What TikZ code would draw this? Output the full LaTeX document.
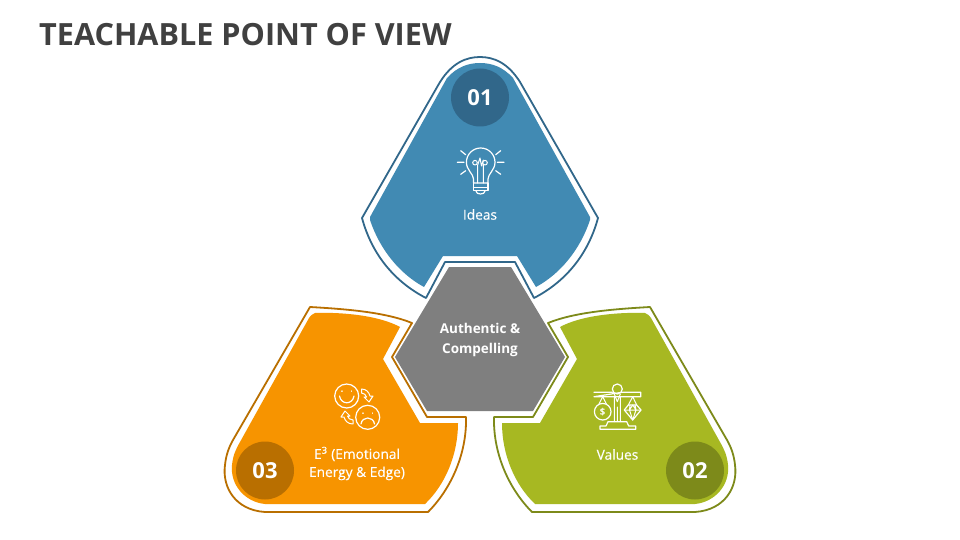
\documentclass[tikz,border=0pt]{standalone}
\usepackage{fontspec}
\setmainfont{Open Sans}
\newfontfamily\semifont[FakeBold=0.35]{Open Sans}
\definecolor{bluefill}{HTML}{418AB3}
\definecolor{bluedark}{HTML}{31678A}
\definecolor{orangefill}{HTML}{F79400}
\definecolor{orangedark}{HTML}{B96F00}
\definecolor{greenfill}{HTML}{A7B822}
\definecolor{greendark}{HTML}{7D8A1A}
\definecolor{hexgray}{HTML}{7F7F7F}
\definecolor{titlegray}{HTML}{404040}
\tikzset{
  outerline/.style={draw=#1,line width=1.8pt,fill=white,line join=round},
  numdisc/.style={circle,fill=#1,minimum size=58pt,inner sep=0pt,text=white,font=\bfseries\fontsize{22}{26}\selectfont},
  lbl/.style={text=white,align=center,font=\semifont\fontsize{13.7}{18}\selectfont,inner sep=0pt},
  boldlbl/.style={text=white,align=center,font=\bfseries\fontsize{13.5}{20}\selectfont,inner sep=0pt},
  icon/.style={draw=white,line width=1.2pt,line cap=round,line join=round,fill=none},
  thinicon/.style={draw=white,line width=1pt,line cap=round,line join=round,fill=none}
}
\begin{document}
\begin{tikzpicture}[x=1pt,y=-1pt]
\useasboundingbox (0,0) rectangle (960,540);
\node[anchor=west,inner sep=0pt,text=titlegray,font=\bfseries\fontsize{30.6}{36}\selectfont] (title) at (39,35) {TEACHABLE POINT OF VIEW};

% blue
\path[outerline=bluedark] (440,82) .. controls (452,63) and (466,57) .. (480,57) .. controls (494,57) and (508,63) .. (520,82)
  -- (598,218) .. controls (588,255) and (565,282) .. (534,298) -- (515,262) -- (445,262) -- (426,298)
  .. controls (395,282) and (372,255) .. (362,218) -- cycle;
\path[fill=bluefill] (447,78) .. controls (457,67) and (468,63) .. (480,63) .. controls (492,63) and (503,67) .. (513,78)
  -- (590,217) -- (590,220) .. controls (580,250) and (560,274) .. (536,287) -- (517,256) -- (443,256) -- (424,287)
  .. controls (400,274) and (380,250) .. (370,220) -- (370,217) -- cycle;

% orange
\path[outerline=orangedark] (310,307) .. controls (345,309) and (385,312) .. (412,323) -- (392,357) -- (427,417) -- (466,417)
  .. controls (467,455) and (450,490) .. (428,512) -- (265,512) .. controls (235,510) and (222,487) .. (225,465)
  .. controls (226,455) and (229,447) .. (233,440) -- cycle;
\path[fill=orangefill] (315,313) .. controls (345,312) and (380,316) .. (400,327) -- (383,359) -- (420,423) -- (458,423)
  .. controls (458,455) and (445,485) .. (425,504) -- (265,504) .. controls (245,502) and (230,485) .. (232,465)
  .. controls (233,455) and (236,449) .. (240,442) -- (309,318) .. controls (311,315) and (313,314) .. (315,313) -- cycle;

% green (mirror of orange)
\begin{scope}[xshift=960pt,xscale=-1]
\path[outerline=greendark] (310,307) .. controls (345,309) and (385,312) .. (412,323) -- (392,357) -- (427,417) -- (466,417)
  .. controls (467,455) and (450,490) .. (428,512) -- (265,512) .. controls (235,510) and (222,487) .. (225,465)
  .. controls (226,455) and (229,447) .. (233,440) -- cycle;
\path[fill=greenfill] (315,313) .. controls (345,312) and (380,316) .. (400,327) -- (383,359) -- (420,423) -- (458,423)
  .. controls (458,455) and (445,485) .. (425,504) -- (265,504) .. controls (245,502) and (230,485) .. (232,465)
  .. controls (233,455) and (236,449) .. (240,442) -- (309,318) .. controls (311,315) and (313,314) .. (315,313) -- cycle;
\end{scope}

% centre
\path[fill=hexgray] (449,267) -- (511,267) -- (565,357) -- (533,411) -- (427,411) -- (395,357) -- cycle;
\node[boldlbl] (centre) at (480,340) {Authentic \&\\Compelling};

% numbered discs
\node[numdisc=bluedark] (n1) at (480,97.5) {01};
\node[numdisc=greendark] (n2) at (695,470.5) {02};
\node[numdisc=orangedark] (n3) at (265,470.5) {03};

% labels
\node[lbl] (ideas) at (480,214.5) {Ideas};
\node[lbl] (values) at (617.5,454.5) {Values};
\node[lbl] (energy) at (357,463.5) {E\textsuperscript{3} (Emotional\\Energy \& Edge)};

% bulb icon
\draw[icon] (473.5,183) -- (473.5,179) .. controls (473.5,174) and (466.4,170) .. (466.4,162.3) arc[start angle=180,end angle=0,radius=14.3pt]
  .. controls (495,170) and (488,174) .. (488,179) -- (488,183) -- cycle;
\draw[thinicon] (475,162.7) circle (2.3pt) (485,162.7) circle (2.3pt);
\draw[thinicon] (477.7,183) -- (477.7,165) -- (480,158) -- (481.5,166) -- (483.3,160) (483.3,183) -- (483.3,165);
\draw[icon] (473.5,187.3) -- (488,187.3) (473.5,183) -- (473.5,190.7) -- (488,190.7) -- (488,183);
\draw[icon] (476,191) .. controls (476,195) and (485,195) .. (485,191);
\draw[icon] (457.3,162.3) -- (464,162.3) (497.3,162.3) -- (504,162.3) (460.7,150.7) -- (465.7,154.7) (495.7,154.7) -- (500.7,150.7) (460.7,174.3) -- (465.7,170.7) (495.7,170.7) -- (500.7,174.3);

% faces icon
\draw[icon] (346.7,396) circle (12pt) (367.7,417.3) circle (12pt);
\draw[icon] (339.5,396) .. controls (341,405) and (352.5,405) .. (354,396);
\draw[icon] (342,391) -- (342,391.3) (351.5,391) -- (351.5,391.3) (363,413) -- (363,413.3) (372.5,413) -- (372.5,413.3);
\draw[icon] (361,424) .. controls (362,416) and (373.5,416) .. (374.5,424);
\draw[thinicon] (361.5,389) .. controls (366,389) and (369,392) .. (370,396) -- (373,396) -- (369,402) -- (364,397) -- (366.5,397) .. controls (366,395) and (364,393) .. (361.5,393) -- cycle;
\draw[thinicon] (353,424) .. controls (348,424) and (345,421) .. (344,417) -- (341,417) -- (345,411) -- (350,416) -- (347.5,416) .. controls (348,418) and (350,420) .. (353,420) -- cycle;

% scales icon
\draw[icon] (617.3,389) circle (5pt);
\draw[icon] (594,392.3) -- (612.5,392.3) (622,392.3) -- (640.7,392.3) -- (640.7,396.7) -- (594,396.7) -- cycle;
\draw[thinicon] (614.3,396.7) -- (614.3,421.7) (620.3,396.7) -- (620.3,421.7) (614.3,394) -- (617.3,401.7) -- (620.3,394) (617.3,407) -- (617.3,421);
\draw[icon] (608,421.7) -- (626.7,421.7) (608,421.7) -- (606,426) -- (600,426) -- (600,429.3) -- (635.7,429.3) -- (635.7,426) -- (628.7,426) -- (626.7,421.7);
\draw[icon] (602.7,411.7) circle (8.3pt);
\draw[thinicon] (599,404) -- (602.7,396.7) -- (606.4,404) (628.3,405) -- (632.7,396.7) -- (636.7,405);
\node[text=white,inner sep=0pt,font=\bfseries\fontsize{9.5}{10}\selectfont] (dollar) at (602.7,411.7) {\$};
\draw[icon] (628.3,405) -- (636.7,405) -- (641,410) -- (632.7,420) -- (624.3,410) -- cycle;
\draw[thinicon] (624.3,410) -- (641,410) (629.5,410) -- (632.7,420) -- (636,410) (630,405) -- (629.5,410) -- (632.7,405) -- (636,410) -- (635,405);
\end{tikzpicture}
\end{document}
